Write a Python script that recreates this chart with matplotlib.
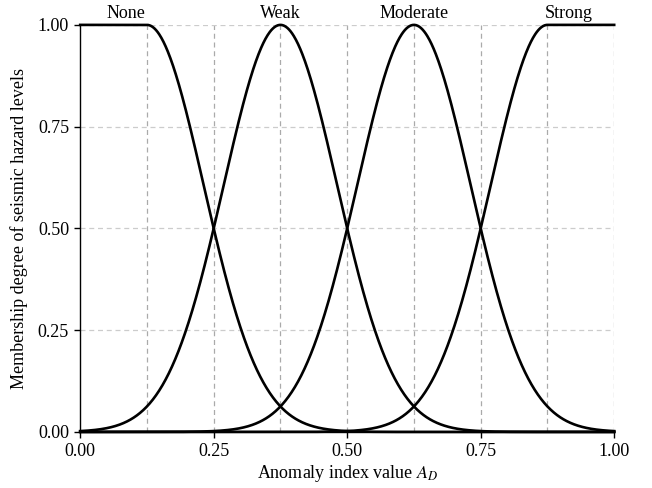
import numpy as np
import matplotlib
matplotlib.use("Agg")
import matplotlib.pyplot as plt
from matplotlib.ticker import MultipleLocator

plt.rcParams['font.family'] = ['Liberation Serif', 'DejaVu Serif']
plt.rcParams['mathtext.fontset'] = 'stix'

# Fuzzy membership functions for seismic hazard levels
levels = ["None", "Weak", "Moderate", "Strong"]
centers = [0.125, 0.375, 0.625, 0.875]
shoulder = ["left", None, None, "right"]   # open-ended plateau side
half_width = 0.125                           # distance from centre to 0.5 membership
label_x = [0.085, 0.375, 0.625, 0.915]

sigma = half_width / np.sqrt(2 * np.log(2))
x = np.linspace(0.0, 1.0, 1001)

fig = plt.figure(figsize=(6.52, 4.88), dpi=100)
ax = fig.add_axes([0.123, 0.115, 0.819, 0.834])

for c, side in zip(centers, shoulder):
    y = np.exp(-(x - c) ** 2 / (2 * sigma ** 2))
    if side == "left":
        y = np.where(x <= c, 1.0, y)
    elif side == "right":
        y = np.where(x >= c, 1.0, y)
    ax.plot(x, y, color='black', lw=1.9, clip_on=False, zorder=3)

ax.set_xlim(0, 1)
ax.set_ylim(0, 1)
ax.xaxis.set_major_locator(MultipleLocator(0.25))
ax.yaxis.set_major_locator(MultipleLocator(0.25))
ax.xaxis.set_major_formatter(lambda v, p: f"{v:.2f}")
ax.yaxis.set_major_formatter(lambda v, p: f"{v:.2f}")

# dashed reference grid
for gx in np.arange(0.125, 1.0001, 0.125):
    ax.axvline(gx, color='#aaaaaa', lw=0.9, ls=(0, (4, 3)), zorder=1)
for gy in [0.25, 0.5, 0.75, 1.0]:
    ax.axhline(gy, color='#cccccc', lw=0.9, ls=(0, (4, 3)), zorder=1)

for s in ['top', 'right']:
    ax.spines[s].set_visible(False)
for s in ['left', 'bottom']:
    ax.spines[s].set_linewidth(1.0)

ax.tick_params(axis='both', direction='out', length=4, width=1.0,
               labelsize=13, pad=4)

ax.set_xlabel(r"Anomaly index value $A_D$", fontsize=13, labelpad=2)
ax.set_ylabel("Membership degree of seismic hazard levels", fontsize=13, labelpad=7)

for name, lx in zip(levels, label_x):
    ax.text(lx, 1.008, name, ha='center', va='bottom', fontsize=13,
            transform=ax.transData)

fig.savefig("out.png", dpi=100)
